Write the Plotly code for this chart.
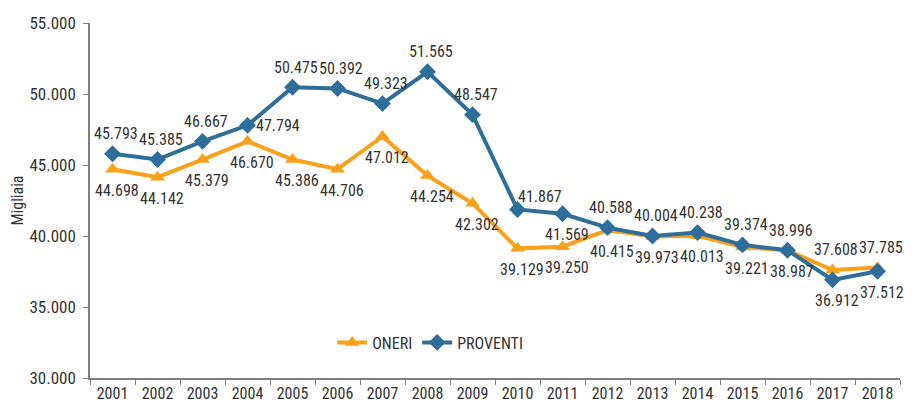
import plotly.graph_objects as go

years = [str(y) for y in range(2001, 2019)]
oneri = [44698, 44142, 45379, 46670, 45386, 44706, 47012, 44254, 42302,
         39129, 39250, 40415, 39973, 40013, 39221, 38987, 37608, 37785]
proventi = [45793, 45385, 46667, 47794, 50475, 50392, 49323, 51565, 48547,
            41867, 41569, 40588, 40004, 40238, 39374, 38996, 36912, 37512]
y_ticks = [30000, 35000, 40000, 45000, 50000, 55000]

# label placement codes (style only)
oneri_pos = ["b"] * 16 + ["t", "t"]
proventi_pos = ["t", "t", "t", "r", "t", "t", "t", "t", "t", "tr",
                "b", "t", "t", "t", "t", "t", "b", "b"]
shift = {"t": (3, 20), "b": (4, -21), "r": (30, 0), "tr": (22, 13)}

ORANGE = "#F9A11B"
BLUE = "#2E6E9B"
FONT = "Roboto Condensed, Roboto, sans-serif"
TXT = "#333333"

def fmt(v):
    return f"{v:,}".replace(",", ".")

fig = go.Figure()
fig.add_trace(go.Scatter(
    x=years, y=oneri, name="ONERI", mode="lines+markers",
    line=dict(color=ORANGE, width=4),
    marker=dict(symbol="triangle-up", size=13, color=ORANGE),
))
fig.add_trace(go.Scatter(
    x=years, y=proventi, name="PROVENTI", mode="lines+markers",
    line=dict(color=BLUE, width=4),
    marker=dict(symbol="diamond", size=13, color=BLUE),
))

annotations = []
for vals, pos in ((oneri, oneri_pos), (proventi, proventi_pos)):
    for i, (v, p) in enumerate(zip(vals, pos)):
        dx, dy = shift[p]
        annotations.append(dict(
            x=i, y=v, text=fmt(v), showarrow=False,
            xshift=dx, yshift=dy,
            font=dict(family=FONT, size=16, color=TXT),
        ))

fig.update_layout(
    width=908, height=395,
    margin=dict(l=82, r=16, t=15, b=25),
    paper_bgcolor="white", plot_bgcolor="white",
    separators=",.",
    font=dict(family=FONT, size=16, color=TXT),
    showlegend=True,
    legend=dict(orientation="h", x=0.42, y=0.10, xanchor="center", yanchor="middle",
                font=dict(family=FONT, size=16, color=TXT), bgcolor="rgba(0,0,0,0)",
                itemwidth=30),
    annotations=annotations,
    xaxis=dict(
        type="category", tickson="boundaries", ticks="outside", ticklen=5,
        range=[-0.5, len(years) - 0.5], automargin=False,
        tickcolor="#808080", showline=True, linecolor="#808080", linewidth=1.5,
        showgrid=False, zeroline=False, tickangle=0,
        tickfont=dict(family=FONT, size=16, color=TXT),
    ),
    yaxis=dict(
        range=[30000, 55000], tickvals=y_ticks, tickformat=",d", automargin=False,
        ticks="outside", ticklen=5, tickcolor="#808080", ticklabelstandoff=4,
        showline=True, linecolor="#808080", linewidth=1.5,
        showgrid=False, zeroline=False,
        tickfont=dict(family=FONT, size=17, color=TXT),
        title=dict(text="Migliaia", font=dict(family=FONT, size=16, color=TXT), standoff=12),
    ),
)

fig.write_html("out.html")
